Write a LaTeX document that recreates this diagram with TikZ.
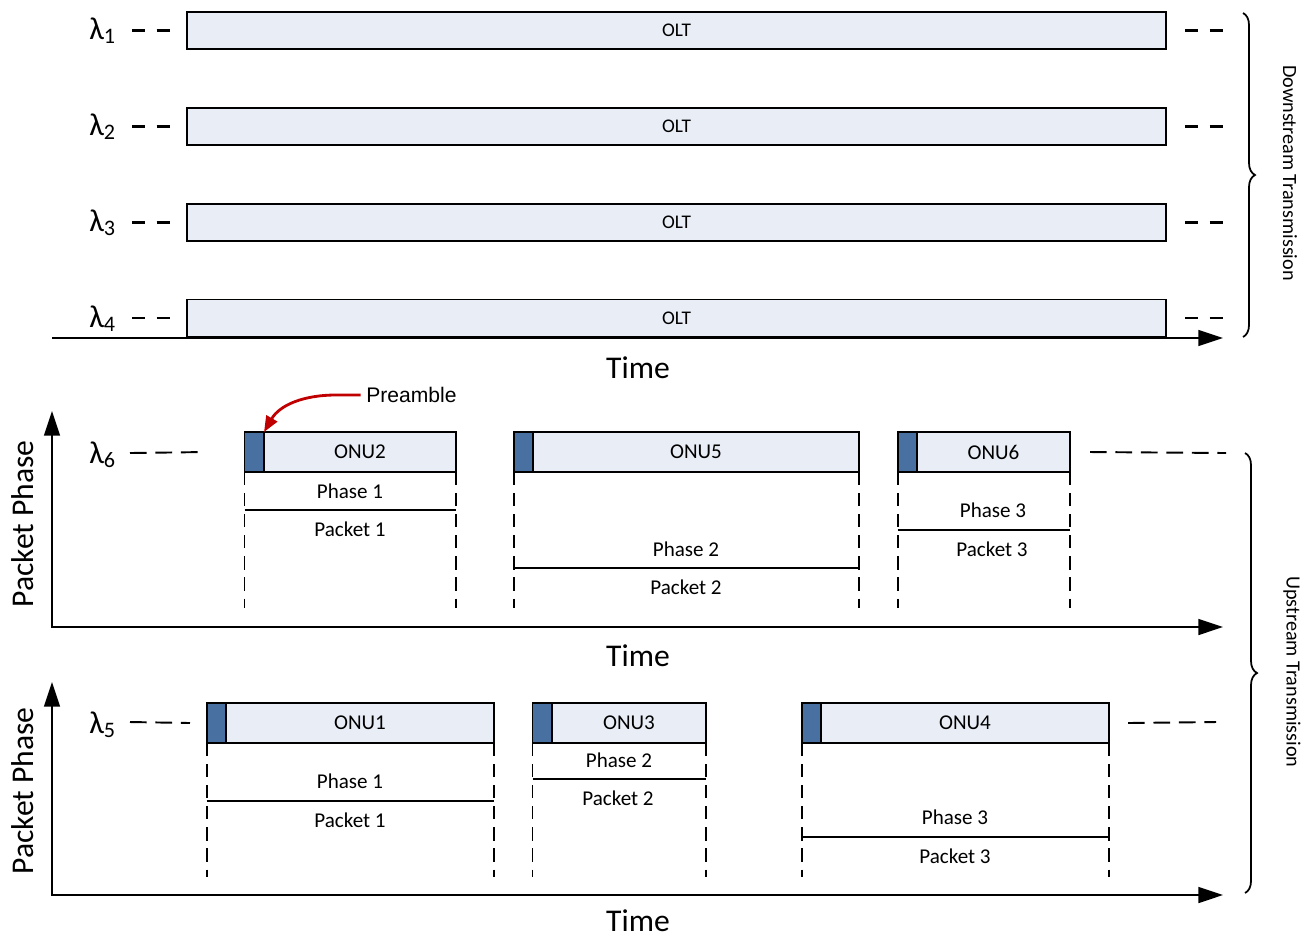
\documentclass[tikz,border=0pt]{standalone}
\usepackage{fontspec}
\setmainfont{Carlito}
\newfontfamily\arialfont{Liberation Sans}
\usepackage{xcolor}
\usetikzlibrary{arrows.meta,positioning,decorations.pathreplacing}
\definecolor{barfill}{RGB}{233,237,246}
\definecolor{prefill}{RGB}{72,112,160}
\definecolor{arrred}{RGB}{192,0,0}

\begin{document}
\begin{tikzpicture}[x=0.02cm,y=-0.02cm]
\tikzstyle{olt}=[draw, line width=1.1pt, fill=barfill, minimum height=0.74cm, minimum width=19.58cm, inner sep=0pt, outer sep=0pt, font=\fontsize{11}{13}\selectfont]
\tikzstyle{onu}=[draw, line width=1.1pt, fill=barfill, minimum height=0.8cm, inner sep=0pt, outer sep=0pt, font=\fontsize{12}{14}\selectfont]
\tikzstyle{pre}=[draw, line width=1.1pt, fill=prefill, minimum height=0.8cm, minimum width=0.39cm, inner sep=0pt, outer sep=0pt]
\tikzstyle{lam}=[font=\fontsize{18}{20}\selectfont, inner sep=0pt, anchor=base west]
\tikzstyle{lbl}=[font=\fontsize{12}{14}\selectfont, inner sep=0pt]
\tikzstyle{big}=[font=\fontsize{18}{20}\selectfont, inner sep=0pt]
\tikzstyle{side}=[font=\fontsize{11.5}{13}\selectfont, inner sep=0pt, rotate=-90]
\tikzstyle{axis}=[line width=1.1pt, -{Triangle[length=14pt,width=9pt]}]
\tikzstyle{shortdash}=[line width=1.3pt, dash pattern=on 7.5pt off 6.5pt]
\tikzstyle{longdash}=[line width=1.1pt, dash pattern=on 9.5pt off 5pt]
\tikzstyle{vdash}=[line width=1.1pt, dash pattern=on 7.5pt off 4.5pt]
\tikzstyle{split}=[line width=0.9pt]
\tikzstyle{brace}=[decorate, decoration={brace, amplitude=0.24cm}, line width=1pt]

\useasboundingbox (0,0) rectangle (1307,938);

% downstream
\node (olt1) [olt] at (676.5,30.5) {OLT};
\node (olt2) [olt] at (676.5,126.5) {OLT};
\node (olt3) [olt] at (676.5,222.5) {OLT};
\node (olt4) [olt] at (676.5,318) {OLT};
\node (l1) [lam] at (89,39) {λ\textsubscript{1}};
\node (l2) [lam] at (89,135) {λ\textsubscript{2}};
\node (l3) [lam] at (89,231) {λ\textsubscript{3}};
\node (l4) [lam] at (89,327) {λ\textsubscript{4}};

\draw[shortdash] (132,30.5) -- (olt1.west -| 172,0);
\draw[shortdash] (132,126.5) -- (olt2.west -| 172,0);
\draw[shortdash] (132,222.5) -- (olt3.west -| 172,0);
\draw[shortdash] (132,318) -- (olt4.west -| 172,0);
\draw[shortdash] (olt1.east -| 1185,0) -- (1226,30.5);
\draw[shortdash] (olt2.east -| 1185,0) -- (1226,126.5);
\draw[shortdash] (olt3.east -| 1185,0) -- (1226,222.5);
\draw[shortdash] (olt4.east -| 1185,0) -- (1226,318);

\coordinate (o1) at (52,338);
\draw[axis] (o1) -- (1223,338);
\node (t1) [big] at (638,368) {Time};
\draw[brace] (1243,13) -- (1243,337);
\node (down) [side] at (1290,173) {Downstream Transmission};

% upstream, lambda 6
\coordinate (o2) at (52,627);
\draw[axis, {Triangle[length=14pt,width=9pt]}-{Triangle[length=14pt,width=9pt]}] (52,411) -- (o2) -- (1223,627);
\node (t2) [big] at (638,656) {Time};
\node (pp2) [big, rotate=90] at (23,524) {Packet Phase};
\node (l6) [lam] at (89,463) {λ\textsubscript{6}};

\node (onu2) [onu, minimum width=3.84cm] at (360,452) {ONU2};
\node (pre2) [pre, left=0pt of onu2] {};
\node (onu5) [onu, minimum width=6.52cm] at (696,452) {ONU5};
\node (pre5) [pre, left=0pt of onu5] {};
\node (onu6) [onu, minimum width=3.06cm] at (993.5,452) {ONU6};
\node (pre6) [pre, left=0pt of onu6] {};

\draw[longdash] (130,453) -- (pre2.west -| 206,0);
\draw[longdash] (onu6.east -| 1090,0) -- (1226,453);

\draw[vdash] (pre2.south west) -- ++(0,136);
\draw[vdash] (onu2.south east) -- ++(0,136);
\draw[vdash] (pre5.south west) -- ++(0,136);
\draw[vdash] (onu5.south east) -- ++(0,136);
\draw[vdash] (pre6.south west) -- ++(0,136);
\draw[vdash] (onu6.south east) -- ++(0,136);

\node (ph1) [lbl] at (350,491) {Phase 1};
\draw[split] (pre2.west |- 0,510) -- (onu2.east |- 0,510);
\node (pk1) [lbl] at (350,529) {Packet 1};
\node (ph2) [lbl] at (686,549) {Phase 2};
\draw[split] (pre5.west |- 0,568) -- (onu5.east |- 0,568);
\node (pk2) [lbl] at (686,587) {Packet 2};
\node (ph3) [lbl] at (993,510) {Phase 3};
\draw[split] (pre6.west |- 0,530) -- (onu6.east |- 0,530);
\node (pk3) [lbl] at (992,549) {Packet 3};

\node (pream) [inner sep=0pt, anchor=west, font=\arialfont\fontsize{12}{14}\selectfont] at (366,395) {Preamble};
\draw[arrred, line width=1.6pt, -{Triangle[length=9pt,width=7pt]}] ([xshift=-3pt]pream.west) -- ++(-25,0) to[out=180,in=60] (pre2.north east);

% upstream, lambda 5
\coordinate (o3) at (52,895);
\draw[axis, {Triangle[length=14pt,width=9pt]}-{Triangle[length=14pt,width=9pt]}] (52,682) -- (o3) -- (1223,895);
\node (t3) [big] at (638,921) {Time};
\node (pp3) [big, rotate=90] at (23,791) {Packet Phase};
\node (l5) [lam] at (89,733) {λ\textsubscript{5}};

\node (onu1) [onu, minimum width=5.36cm] at (360,723) {ONU1};
\node (pre1) [pre, left=0pt of onu1] {};
\node (onu3) [onu, minimum width=3.08cm] at (629,723) {ONU3};
\node (pre3) [pre, left=0pt of onu3] {};
\node (onu4) [onu, minimum width=5.76cm] at (965,723) {ONU4};
\node (pre4) [pre, left=0pt of onu4] {};

\draw[longdash] (130,722) -- (pre1.west -| 190,0);
\draw[longdash] (onu4.east -| 1128,0) -- (1216,722);

\draw[vdash] (pre1.south west) -- ++(0,134);
\draw[vdash] (onu1.south east) -- ++(0,134);
\draw[vdash] (pre3.south west) -- ++(0,134);
\draw[vdash] (onu3.south east) -- ++(0,134);
\draw[vdash] (pre4.south west) -- ++(0,134);
\draw[vdash] (onu4.south east) -- ++(0,134);

\node (ph4) [lbl] at (350,781) {Phase 1};
\draw[split] (pre1.west |- 0,801) -- (onu1.east |- 0,801);
\node (pk4) [lbl] at (350,820) {Packet 1};
\node (ph5) [lbl] at (619,760) {Phase 2};
\draw[split] (pre3.west |- 0,779) -- (onu3.east |- 0,779);
\node (pk5) [lbl] at (618,798) {Packet 2};
\node (ph6) [lbl] at (955,817) {Phase 3};
\draw[split] (pre4.west |- 0,837) -- (onu4.east |- 0,837);
\node (pk6) [lbl] at (955,856) {Packet 3};

\draw[brace] (1245,453) -- (1245,893);
\node (up) [side] at (1292,672) {Upstream Transmission};
\end{tikzpicture}
\end{document}
